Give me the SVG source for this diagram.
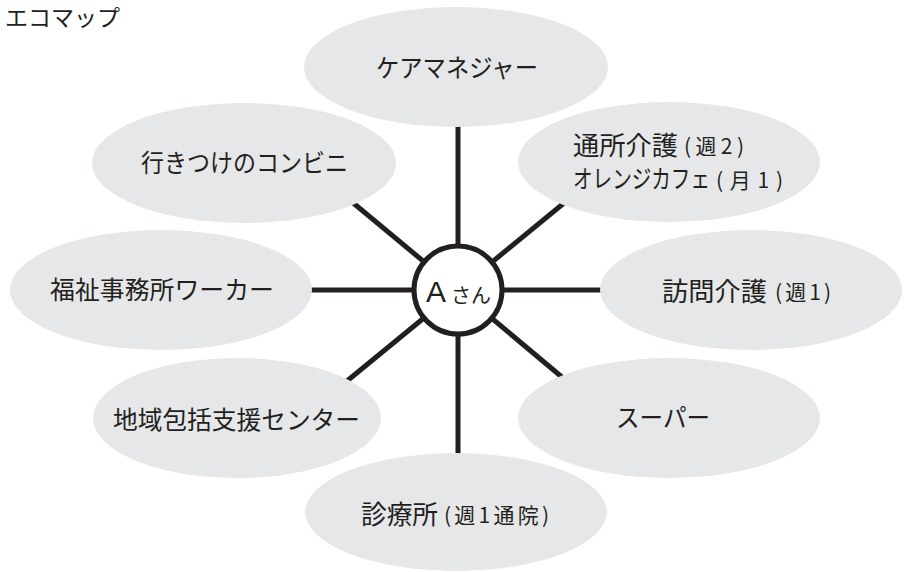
<svg xmlns="http://www.w3.org/2000/svg" width="904" height="572" viewBox="0 0 904 572">
<style>
.bg{fill:#ffffff}
.node{fill:#e6e7e8;stroke:none}
.conn{stroke:#231f20;stroke-width:5;fill:none}
.hub{fill:#ffffff;stroke:#231f20;stroke-width:5}
.t{font-family:"Noto Sans CJK JP","Noto Sans",sans-serif;fill:#231f20;font-size:25px}
.k{font-size:26px}
.s{font-size:21px}
.title{font-size:22.5px}
.san{font-size:20px}
.a{font-family:"Liberation Sans",Arial,sans-serif;fill:#231f20;font-size:30px}
</style>
<rect class="bg" x="0" y="0" width="904" height="572"/>
<text class="t title" x="5" y="25.5" textLength="115" lengthAdjust="spacingAndGlyphs">エコマップ</text>
<g id="connectors">
<line class="conn" x1="458" y1="110" x2="458" y2="290"/>
<line class="conn" x1="458" y1="290" x2="458" y2="470"/>
<line class="conn" x1="300" y1="290" x2="458" y2="290"/>
<line class="conn" x1="458" y1="290" x2="620" y2="290"/>
<line class="conn" x1="340" y1="192" x2="458" y2="290"/>
<line class="conn" x1="575" y1="194" x2="458" y2="290"/>
<line class="conn" x1="336" y1="390" x2="458" y2="290"/>
<line class="conn" x1="575" y1="388" x2="458" y2="290"/>
</g>
<g id="node-caremanager">
<ellipse class="node" cx="456" cy="67" rx="152" ry="60"/>
<text class="t" x="376" y="77" textLength="162" lengthAdjust="spacingAndGlyphs">ケアマネジャー</text>
</g>
<g id="node-konbini">
<ellipse class="node" cx="244" cy="163" rx="152" ry="60"/>
<text class="t" x="141" y="172" textLength="207" lengthAdjust="spacingAndGlyphs">行きつけのコンビニ</text>
</g>
<g id="node-tsusho">
<ellipse class="node" cx="669" cy="162" rx="151" ry="60"/>
<text class="t"><tspan class="k" x="573" y="154.5" textLength="105" lengthAdjust="spacingAndGlyphs">通所介護</tspan><tspan class="s" x="684" y="154" textLength="60" lengthAdjust="spacing">(週2)</tspan><tspan x="573" y="188" textLength="137" lengthAdjust="spacingAndGlyphs">オレンジカフェ</tspan><tspan class="s" x="716" y="188" textLength="67" lengthAdjust="spacing">(月1)</tspan></text>
</g>
<g id="node-fukushi">
<ellipse class="node" cx="161" cy="290" rx="151" ry="60"/>
<text class="t" x="50" y="299" textLength="224" lengthAdjust="spacingAndGlyphs">福祉事務所ワーカー</text>
</g>
<g id="node-houmon">
<ellipse class="node" cx="751" cy="290" rx="151" ry="60"/>
<text class="t"><tspan class="k" x="662" y="300.5" textLength="105" lengthAdjust="spacingAndGlyphs">訪問介護</tspan><tspan class="s" x="775" y="300" textLength="56" lengthAdjust="spacing">(週1)</tspan></text>
</g>
<g id="node-chiiki">
<ellipse class="node" cx="237" cy="418" rx="144" ry="60"/>
<text class="t" x="113" y="429" textLength="247" lengthAdjust="spacingAndGlyphs">地域包括支援センター</text>
</g>
<g id="node-super">
<ellipse class="node" cx="669" cy="418" rx="151" ry="60"/>
<text class="t" x="616" y="427" textLength="94" lengthAdjust="spacingAndGlyphs">スーパー</text>
</g>
<g id="node-shinryo">
<ellipse class="node" cx="456" cy="512" rx="151" ry="59"/>
<text class="t"><tspan class="k" x="361" y="523.5" textLength="77" lengthAdjust="spacingAndGlyphs">診療所</tspan><tspan class="s" x="444" y="523" textLength="105" lengthAdjust="spacing">(週1通院)</tspan></text>
</g>
<g id="node-a">
<circle class="hub" cx="458" cy="290" r="44"/>
<text class="a" x="426" y="302">A</text>
<text class="t san" x="451" y="302.5">さん</text>
</g>
</svg>
